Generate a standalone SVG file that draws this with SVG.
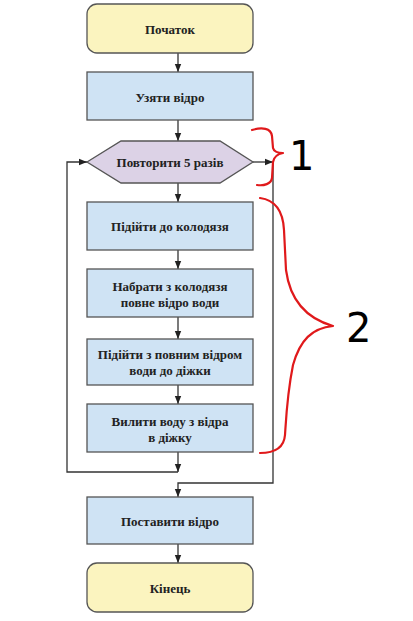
<svg xmlns="http://www.w3.org/2000/svg" width="413" height="621" viewBox="0 0 413 621">
<defs>
<marker id="ah" viewBox="0 0 10 10" refX="10" refY="5" markerWidth="8" markerHeight="8" markerUnits="userSpaceOnUse" orient="auto">
<path d="M0,1 L10,5 L0,9 Z" fill="#222"/>
</marker>
<style>
.term{fill:#fbf4bf;stroke:#555;stroke-width:1.3}
.proc{fill:#cfe3f4;stroke:#555;stroke-width:1.3}
.hex{fill:#dcd2e6;stroke:#555;stroke-width:1.3}
.t{font-family:"Liberation Serif","DejaVu Serif",serif;font-weight:bold;font-size:13px;fill:#222;text-anchor:middle;dominant-baseline:central}
.c{fill:none;stroke:#333;stroke-width:1.3}
.b{fill:none;stroke:#e0191b;stroke-width:2.2;stroke-linecap:round;stroke-linejoin:round}
.h{font-family:"DejaVu Sans","Liberation Sans",sans-serif;font-size:40px;fill:#000}
</style>
</defs>
<rect width="413" height="621" fill="#fff"/>
<g id="connectors">
<line class="c" x1="178" y1="53" x2="178" y2="72" marker-end="url(#ah)"/>
<line class="c" x1="178" y1="120" x2="178" y2="141" marker-end="url(#ah)"/>
<line class="c" x1="178" y1="183" x2="178" y2="202" marker-end="url(#ah)"/>
<line class="c" x1="178" y1="250" x2="178" y2="269" marker-end="url(#ah)"/>
<line class="c" x1="178" y1="317" x2="178" y2="339" marker-end="url(#ah)"/>
<line class="c" x1="178" y1="385" x2="178" y2="404" marker-end="url(#ah)"/>
<line class="c" x1="178" y1="452" x2="178" y2="472" marker-end="url(#ah)"/>
<polyline class="c" points="178,472 67,472 67,162 87,162" marker-end="url(#ah)"/>
<line class="c" x1="253" y1="162" x2="273" y2="162" marker-end="url(#ah)"/>
<polyline class="c" points="273,162 273,483 178,483 178,497" marker-end="url(#ah)"/>
<line class="c" x1="178" y1="544" x2="178" y2="563" marker-end="url(#ah)"/>
</g>
<g id="start">
<rect class="term" x="87" y="4" width="166" height="49" rx="10"/>
<text class="t" x="170" y="29">Початок</text>
</g>
<g id="take">
<rect class="proc" x="87" y="72" width="166" height="48"/>
<text class="t" x="170" y="97">Узяти відро</text>
</g>
<g id="loop">
<polygon class="hex" points="87,162 121,141 220,141 253,162 220,183 121,183"/>
<text class="t" x="170" y="162">Повторити 5 разів</text>
</g>
<g id="go">
<rect class="proc" x="87" y="202" width="166" height="48"/>
<text class="t" x="170" y="226">Підійти до колодязя</text>
</g>
<g id="fill">
<rect class="proc" x="87" y="269" width="166" height="48"/>
<text class="t" x="170" y="286">Набрати з колодязя</text>
<text class="t" x="170" y="302">повне відро води</text>
</g>
<g id="carry">
<rect class="proc" x="87" y="339" width="166" height="46"/>
<text class="t" x="170" y="354">Підійти з повним відром</text>
<text class="t" x="170" y="370">води до діжки</text>
</g>
<g id="pour">
<rect class="proc" x="87" y="404" width="166" height="48"/>
<text class="t" x="170" y="421">Вилити воду з відра</text>
<text class="t" x="170" y="437">в діжку</text>
</g>
<g id="put">
<rect class="proc" x="87" y="497" width="166" height="47"/>
<text class="t" x="170" y="521">Поставити відро</text>
</g>
<g id="end">
<rect class="term" x="87" y="563" width="166" height="49" rx="10"/>
<text class="t" x="170" y="588">Кінець</text>
</g>
<g id="annotations">
<path class="b" d="M252,130 C262,127 271,128 272,136 L273,148 C274,152 278,153 283,153 C278,154 274,156 273,162 L272,178 C271,184 264,186 257,185"/>
<text class="h" x="289" y="170">1</text>
<path class="b" d="M260,198 C275,200 283,210 284,230 L286,270 C290,300 305,318 333,326 C312,328 300,340 293,365 C287,395 286,420 285,435 C284,448 275,453 260,453"/>
<text class="h" x="346" y="342">2</text>
</g>
</svg>
